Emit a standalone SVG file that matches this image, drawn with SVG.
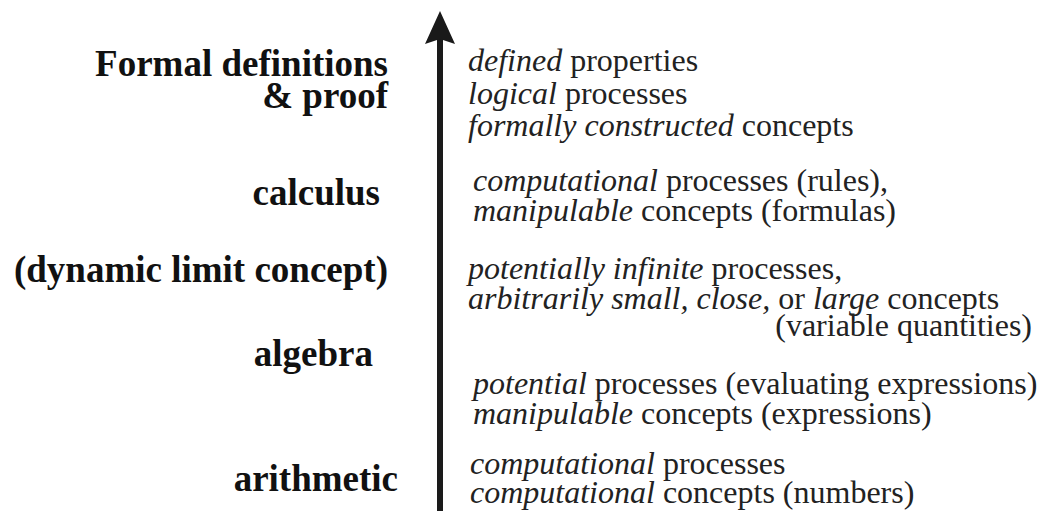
<svg xmlns="http://www.w3.org/2000/svg" width="1045" height="513" viewBox="0 0 1045 513">
<style>
.lbl{font-family:"Liberation Serif","Times New Roman",serif;font-weight:bold;font-size:37px;fill:#111;text-anchor:end}
.desc{font-family:"Liberation Serif","Times New Roman",serif;font-size:32px;fill:#222}
.it{font-style:italic}
</style>
<rect width="1045" height="513" fill="#fff"/>
<g id="connectors">
<line x1="440" y1="38" x2="440" y2="511" stroke="#1a1a1a" stroke-width="6"/>
<path d="M440,11 L455,44 L440,39 L425,44 Z" fill="#1a1a1a"/>
</g>
<g id="formal">
<text class="lbl" x="388" y="76">Formal definitions</text>
<text class="lbl" x="388" y="108">&amp; proof</text>
<text class="desc" x="468" y="71"><tspan class="it">defined</tspan> properties</text>
<text class="desc" x="468" y="104"><tspan class="it">logical</tspan> processes</text>
<text class="desc" x="468" y="136"><tspan class="it">formally constructed</tspan> concepts</text>
</g>
<g id="calculus">
<text class="lbl" x="380" y="205">calculus</text>
<text class="desc" x="473" y="191"><tspan class="it">computational</tspan> processes (rules),</text>
<text class="desc" x="473" y="221"><tspan class="it">manipulable</tspan> concepts (formulas)</text>
</g>
<g id="limit">
<text class="lbl" x="388" y="282">(dynamic limit concept)</text>
<text class="desc" x="468" y="279"><tspan class="it">potentially infinite</tspan> processes,</text>
<text class="desc" x="468" y="309"><tspan class="it">arbitrarily small, close,</tspan> or <tspan class="it">large</tspan> concepts</text>
<text class="desc" x="1032" y="336" text-anchor="end">(variable quantities)</text>
</g>
<g id="algebra">
<text class="lbl" x="373" y="366">algebra</text>
<text class="desc" x="473" y="394"><tspan class="it">potential</tspan> processes (evaluating expressions)</text>
<text class="desc" x="473" y="424"><tspan class="it">manipulable</tspan> concepts (expressions)</text>
</g>
<g id="arithmetic">
<text class="lbl" x="398" y="491">arithmetic</text>
<text class="desc" x="470" y="474"><tspan class="it">computational</tspan> processes</text>
<text class="desc" x="470" y="503"><tspan class="it">computational</tspan> concepts (numbers)</text>
</g>
</svg>
